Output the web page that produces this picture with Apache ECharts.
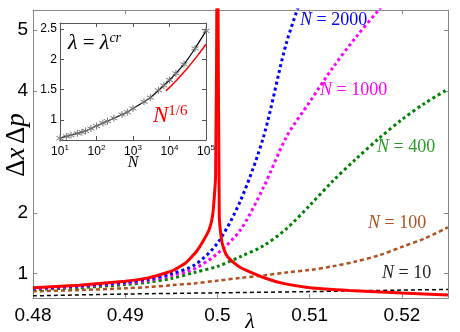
<!DOCTYPE html>
<html>
<head>
<meta charset="utf-8">
<script src="https://cdn.jsdelivr.net/npm/echarts@6/dist/echarts.min.js"></script>
<style>
  html, body { margin: 0; padding: 0; background: #fff; }
  #chart { width: 460px; height: 332px; }
</style>
</head>
<body>
<div id="chart"></div>
<script>
// main panel: dx*dp against lambda, one dashed curve per N
const lamDash = [0.48, 0.485, 0.49, 0.4925, 0.495, 0.4975, 0.5, 0.5025, 0.505, 0.5075, 0.51, 0.5125, 0.515, 0.5175, 0.52, 0.5225, 0.525];
const n2000 = [0.76, 0.80, 0.86, 0.91, 1.0, 1.14, 1.5, 2.2, 3.25, 4.8, 5.9, null, null, null, null, null, null];
const n1000 = [0.75, 0.79, 0.845, 0.89, 0.97, 1.08, 1.33, 1.72, 2.42, 3.25, 3.82, 4.38, 4.88, 5.33, 5.75, null, null];
const n400 = [0.74, 0.77, 0.82, 0.86, 0.92, 1.02, 1.12, 1.28, 1.46, 1.74, 2.12, 2.52, 2.88, 3.22, 3.53, 3.8, 4.03];
const n100 = [0.71, 0.73, 0.76, 0.78, 0.81, 0.84, 0.885, 0.93, 0.97, 1.02, 1.06, 1.12, 1.2, 1.3, 1.44, 1.58, 1.76];
const lamN10 = [0.48, 0.49, 0.5, 0.51, 0.52, 0.525];
const n10 = [0.635, 0.665, 0.685, 0.705, 0.73, 0.74];

// thermodynamic limit (red), diverges at lambda = 0.5: left and right branch
const lamInfL = [0.48, 0.485, 0.49, 0.4925, 0.495, 0.4965, 0.4977, 0.4985, 0.4991, 0.4995, 0.4998, 0.49995, 0.5];
const nInfL = [0.77, 0.81, 0.875, 0.93, 1.04, 1.17, 1.36, 1.55, 1.72, 1.98, 2.6, 6, 60];
const lamInfR = [0.5, 0.50005, 0.5002, 0.5004, 0.5006, 0.501, 0.5017, 0.5025, 0.5035, 0.5053, 0.5071, 0.51, 0.5143, 0.52, 0.525];
const nInfR = [60, 6, 1.95, 1.6, 1.45, 1.3, 1.19, 1.1, 1.03, 0.92, 0.84, 0.77, 0.725, 0.683, 0.65];

const xTicks = [0.48, 0.49, 0.5, 0.51, 0.52];
const yTicks = [1, 2, 4, 5];

// inset: dx*dp at lambda_cr against N
const insetN = [10, 15, 20, 30, 40, 50, 70, 100, 150, 200, 300, 500, 700, 1000, 2000, 3000, 5000, 7000, 10000, 15000, 25000, 50000, 100000];
const insetVal = [0.70, 0.73, 0.75, 0.78, 0.80, 0.82, 0.86, 0.90, 0.95, 0.98, 1.03, 1.09, 1.13, 1.19, 1.30, 1.37, 1.49, 1.57, 1.66, 1.77, 1.92, 2.18, 2.47];
const powN = [8000, 15000, 30000, 60000, 100000];
const powVal = [1.48, 1.645, 1.845, 2.07, 2.25];
const insetXTicks = [10, 100, 1000, 10000, 100000];
const insetYTicks = [1, 1.5, 2, 2.5];

const pairs = (xs, ys) => xs.map((x, i) => [x, ys[i]]).filter(p => p[1] != null);

const frame = '#888';
const sans = 'Liberation Sans';
const serif = 'Liberation Serif';

function axisX(grid, pos, min, max, ticks, type, labels) {
  return {
    gridIndex: grid, type: type, position: pos, min: min, max: max,
    logBase: 10,
    axisLine: { show: true, onZero: false, lineStyle: { color: grid ? '#555' : frame, width: 1 } },
    axisTick: { show: true, inside: true, length: 4, customValues: ticks, lineStyle: { color: grid ? '#555' : frame } },
    axisLabel: labels || { show: false },
    splitLine: { show: false }
  };
}
function axisY(grid, pos, min, max, ticks, labels) {
  return {
    gridIndex: grid, type: 'value', position: pos, min: min, max: max,
    axisLine: { show: true, onZero: false, lineStyle: { color: grid ? '#555' : frame, width: 1 } },
    axisTick: { show: true, inside: true, length: 4, customValues: ticks, lineStyle: { color: grid ? '#555' : frame } },
    axisLabel: labels || { show: false },
    splitLine: { show: false }
  };
}

function curve(name, xs, ys, color, width, dash, smooth) {
  return {
    name: name, type: 'line', xAxisIndex: 0, yAxisIndex: 0,
    data: pairs(xs, ys), smooth: smooth, showSymbol: false,
    lineStyle: { color: color, width: width, type: dash, cap: 'butt' },
    z: 3
  };
}

function note(x, y, text, color, size) {
  return {
    type: 'text', x: x, y: y,
    style: {
      text: '{i|N}{t| = ' + text + '}',
      verticalAlign: 'middle', align: 'left',
      rich: {
        i: { fill: color, fontFamily: serif, fontStyle: 'italic', fontSize: size },
        t: { fill: color, fontFamily: serif, fontSize: size }
      }
    }
  };
}

const chart = echarts.init(document.getElementById('chart'));
chart.setOption({
  animation: false,
  backgroundColor: '#fff',
  grid: [
    { left: 33, top: 10, width: 415, height: 288 },
    { left: 60, top: 23, width: 146, height: 117, show: true, backgroundColor: '#fff', borderWidth: 0, z: 5 }
  ],
  xAxis: [
    axisX(0, 'bottom', 0.48, 0.525, xTicks, 'value',
      { customValues: xTicks, color: '#000', fontSize: 19, fontFamily: sans, margin: 8 }),
    axisX(0, 'top', 0.48, 0.525, xTicks, 'value'),
    Object.assign(axisX(1, 'bottom', 10, 100000, insetXTicks, 'log', {
      customValues: insetXTicks, margin: 4,
      formatter: v => '{b|10}{s|' + Math.round(Math.log10(v)) + '}',
      rich: {
        b: { fontSize: 12, fontFamily: sans, color: '#000' },
        s: { fontSize: 8, fontFamily: sans, color: '#000', verticalAlign: 'top', padding: [0, 0, 8, 0] }
      }
    }), { z: 6 }),
    Object.assign(axisX(1, 'top', 10, 100000, insetXTicks, 'log'), { z: 6 })
  ],
  yAxis: [
    axisY(0, 'left', 0.6, 5.33, yTicks,
      { customValues: yTicks, color: '#000', fontSize: 19, fontFamily: sans, margin: 5 }),
    axisY(0, 'right', 0.6, 5.33, yTicks),
    Object.assign(axisY(1, 'left', 0.67, 2.6, insetYTicks,
      { customValues: insetYTicks, color: '#000', fontSize: 12, fontFamily: sans, margin: 3 }), { z: 6 }),
    Object.assign(axisY(1, 'right', 0.67, 2.6, insetYTicks), { z: 6 })
  ],
  series: [
    curve('N=10', lamN10, n10, '#000', 1.5, [4, 3], 0.3),
    curve('N=100', lamDash, n100, '#b0501e', 2.5, [4, 3], 0.3),
    curve('N=400', lamDash, n400, '#008000', 3, [3, 3], 0.3),
    curve('N=1000', lamDash, n1000, '#ff00ff', 3, [3, 3], 0.3),
    curve('N=2000', lamDash, n2000, '#0000ff', 3, [3, 3], 0.3),
    Object.assign(curve('N=inf left', lamInfL, nInfL, '#ff0000', 3, 'solid', 0.15), { z: 4 }),
    Object.assign(curve('N=inf right', lamInfR, nInfR, '#ff0000', 3, 'solid', 0.15), { z: 4 }),
    {
      name: 'lambda_cr', type: 'line', xAxisIndex: 2, yAxisIndex: 2,
      data: pairs(insetN, insetVal), smooth: 0.3, symbol: 'path://M5,0L5,10M0.7,2.5L9.3,7.5M0.7,7.5L9.3,2.5',
      symbolSize: 7, showSymbol: true,
      itemStyle: { color: 'transparent', borderColor: '#777', borderWidth: 1 },
      lineStyle: { color: '#000', width: 1.2 }, z: 7
    },
    {
      name: 'N^1/6', type: 'line', xAxisIndex: 2, yAxisIndex: 2,
      data: pairs(powN, powVal), smooth: 0.3, showSymbol: false,
      lineStyle: { color: '#ff0000', width: 1.5 }, z: 7
    }
  ],
  graphic: [
    note(300, 20, '2000', '#0000ff', 18),
    note(320, 90, '1000', '#ff00ff', 18),
    note(377, 147, '400', '#2a9a2a', 18),
    note(368, 223, '100', '#b0501e', 18),
    note(382, 273, '10', '#222', 18),
    {
      type: 'text', x: 68, y: 43, z: 10,
      style: {
        text: '{l|λ}{a| = }{l|λ}{s|cr}', verticalAlign: 'middle',
        rich: {
          l: { fill: '#000', fontFamily: serif, fontStyle: 'italic', fontSize: 22 },
          a: { fill: '#000', fontFamily: serif, fontSize: 21 },
          s: { fill: '#000', fontFamily: serif, fontStyle: 'italic', fontSize: 14, verticalAlign: 'top', padding: [0, 0, 10, 0] }
        }
      }
    },
    {
      type: 'text', x: 153, y: 116, z: 10,
      style: {
        text: '{a|N}{s|1/6}', verticalAlign: 'middle',
        rich: {
          a: { fill: '#ff0000', fontFamily: serif, fontStyle: 'italic', fontSize: 23 },
          s: { fill: '#ff0000', fontFamily: serif, fontSize: 15, verticalAlign: 'top', padding: [0, 0, 10, 0] }
        }
      }
    },
    {
      type: 'text', x: 133, y: 163, z: 10,
      style: { text: 'N', fill: '#000', fontFamily: serif, fontStyle: 'italic', fontSize: 16, align: 'center', verticalAlign: 'middle' }
    },
    {
      type: 'text', x: 250, y: 322, z: 10,
      style: { text: 'λ', fill: '#000', fontFamily: serif, fontStyle: 'italic', fontSize: 22, align: 'center', verticalAlign: 'middle' }
    },
    {
      type: 'text', x: 17, y: 145, rotation: Math.PI / 2, z: 10,
      style: {
        text: '{d|Δ}{i|x} {d|Δ}{i|p}', align: 'center', verticalAlign: 'middle',
        rich: {
          d: { fill: '#000', fontFamily: serif, fontSize: 27 },
          i: { fill: '#000', fontFamily: serif, fontStyle: 'italic', fontSize: 27 }
        }
      }
    }
  ]
});
</script>
</body>
</html>
